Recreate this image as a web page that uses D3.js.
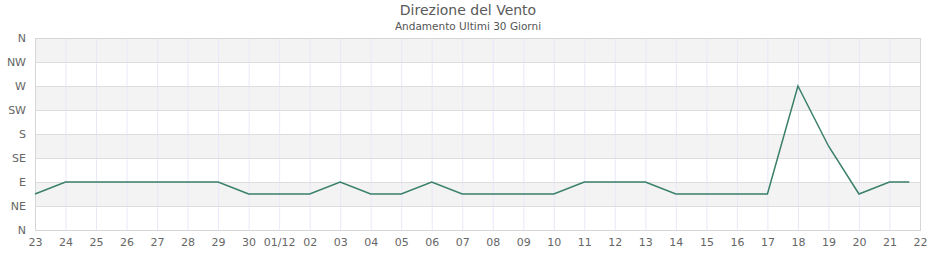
<!DOCTYPE html>
<html>
<head>
<meta charset="utf-8">
<script src="https://cdn.jsdelivr.net/npm/d3@7"></script>
<style>
  body { margin: 0; background: #fff; }
  svg { display: block; font-family: "DejaVu Sans", sans-serif; }
</style>
</head>
<body>
<div id="chart"></div>
<script>
// x tick labels (one per day)
const dayLabels = ["23","24","25","26","27","28","29","30","01/12","02","03","04","05","06","07","08","09","10","11","12","13","14","15","16","17","18","19","20","21","22"]
// direction labels, bottom to top (degrees 0..360 step 45)
const dirLabels = ["N","NE","E","SE","S","SW","W","NW","N"]
// sample positions in day index (last one is the partial day)
const samplePos = [0,1,2,3,4,5,6,7,8,9,10,11,12,13,14,15,16,17,18,19,20,21,22,23,24,25,26,27,28,28.65]
// direction in degrees
const sampleDir = [67.5,90,90,90,90,90,90,67.5,67.5,67.5,90,67.5,67.5,90,67.5,67.5,67.5,67.5,90,90,90,67.5,67.5,67.5,67.5,270,157.5,67.5,90,90]

const width = 940, height = 260
const margin = {top: 38, right: 20, bottom: 30, left: 35}

const svg = d3.select("#chart").append("svg")
  .attr("width", width)
  .attr("height", height)

const x = d3.scaleLinear()
  .domain([0, dayLabels.length - 1])
  .range([margin.left, width - margin.right])

const y = d3.scaleLinear()
  .domain([0, 360])
  .range([height - margin.bottom, margin.top])

const dirTicks = d3.range(0, 361, 45)

// alternating bands
svg.append("g")
  .selectAll("rect")
  .data(d3.range(0, 360, 45))
  .enter().append("rect")
    .attr("x", x(0))
    .attr("width", x(dayLabels.length - 1) - x(0))
    .attr("y", d => y(d + 45))
    .attr("height", d => y(d) - y(d + 45))
    .attr("fill", (d, i) => i % 2 === 0 ? "#ffffff" : "#f3f3f3")

// vertical grid
svg.append("g")
  .selectAll("line")
  .data(d3.range(1, dayLabels.length - 1))
  .enter().append("line")
    .attr("x1", d => x(d) + 0.5)
    .attr("x2", d => x(d) + 0.5)
    .attr("y1", y(360))
    .attr("y2", y(0))
    .attr("stroke", "#e9e8f8")

// horizontal grid
svg.append("g")
  .selectAll("line")
  .data(dirTicks)
  .enter().append("line")
    .attr("x1", x(0))
    .attr("x2", x(dayLabels.length - 1))
    .attr("y1", d => Math.round(y(d)) + 0.5)
    .attr("y2", d => Math.round(y(d)) + 0.5)
    .attr("stroke", "#dedede")

// frame
svg.append("rect")
  .attr("x", x(0) + 0.5)
  .attr("y", y(360) + 0.5)
  .attr("width", x(dayLabels.length - 1) - x(0))
  .attr("height", y(0) - y(360))
  .attr("fill", "none")
  .attr("stroke", "#d6d6d6")

// y axis labels
const yAxis = d3.axisLeft(y)
  .tickValues(dirTicks)
  .tickFormat((d, i) => dirLabels[i])
  .tickSize(0)
  .tickPadding(9)
const gy = svg.append("g")
  .attr("transform", `translate(${margin.left},0)`)
  .call(yAxis)
gy.select(".domain").remove()
gy.selectAll("text").attr("fill", "#666").style("font-size", "11px").style("font-family", "DejaVu Sans, sans-serif")

// x axis labels
const xAxis = d3.axisBottom(x)
  .tickValues(d3.range(dayLabels.length))
  .tickFormat(d => dayLabels[d])
  .tickSize(0)
  .tickPadding(8)
const gx = svg.append("g")
  .attr("transform", `translate(0,${height - margin.bottom})`)
  .call(xAxis)
gx.select(".domain").remove()
gx.selectAll("text").attr("fill", "#666").style("font-size", "11px").style("font-family", "DejaVu Sans, sans-serif")

// the line
const line = d3.line()
  .x((d, i) => x(samplePos[i]))
  .y(d => y(d))

svg.append("path")
  .datum(sampleDir)
  .attr("fill", "none")
  .attr("stroke", "#3a8068")
  .attr("stroke-width", 1.5)
  .attr("d", line)

// titles
svg.append("text")
  .attr("x", 468)
  .attr("y", 15)
  .attr("text-anchor", "middle")
  .attr("fill", "#5a5a5a")
  .style("font-size", "14px")
  .text("Direzione del Vento")

svg.append("text")
  .attr("x", 468)
  .attr("y", 30)
  .attr("text-anchor", "middle")
  .attr("fill", "#555")
  .style("font-size", "10.5px")
  .text("Andamento Ultimi 30 Giorni")
</script>
</body>
</html>
